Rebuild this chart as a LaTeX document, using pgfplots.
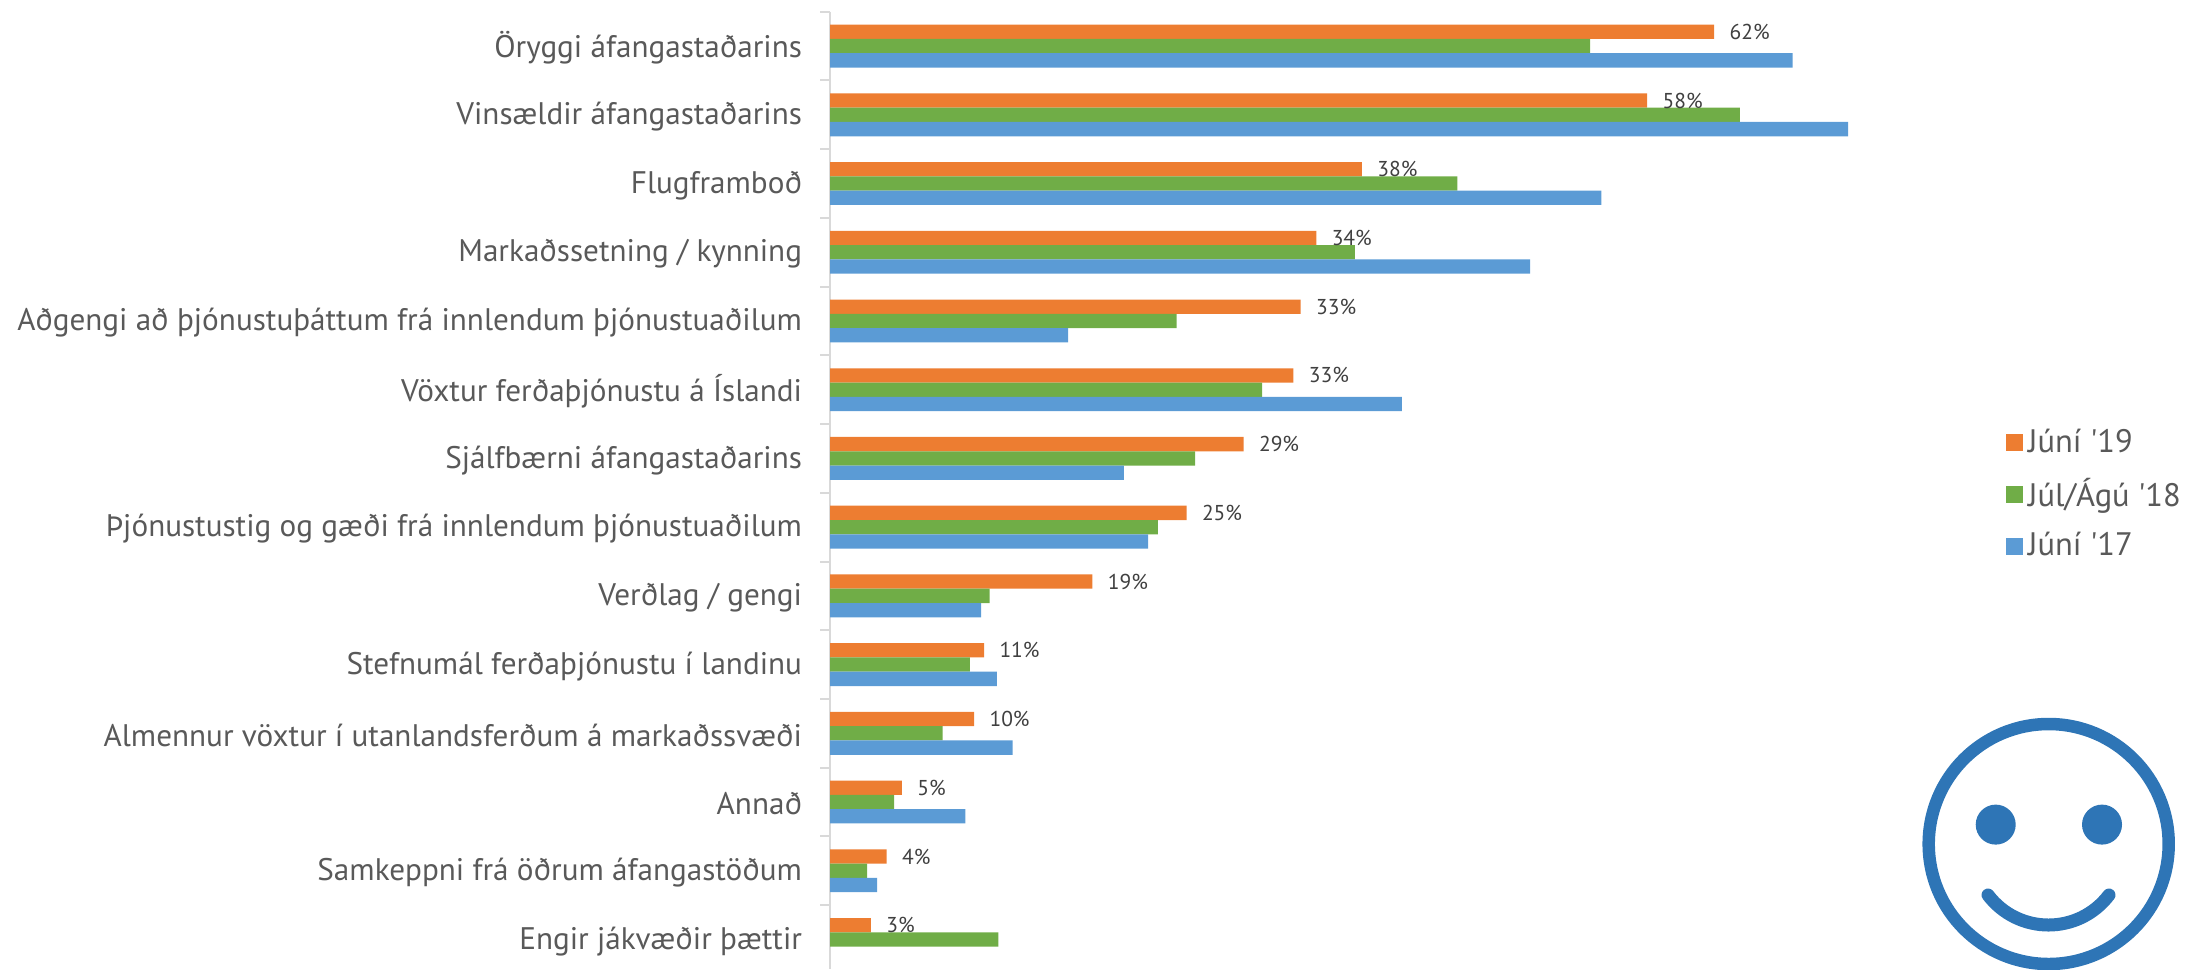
\documentclass[border=0pt]{standalone}
\usepackage{pgfplots}
\pgfplotsset{compat=1.18}
\usepackage{fontspec}
\setmainfont{PT Sans}
\definecolor{cOr}{HTML}{ED7D31}
\definecolor{cGr}{HTML}{70AD47}
\definecolor{cBl}{HTML}{5B9BD5}
\definecolor{cAx}{HTML}{D9D9D9}
\definecolor{cTx}{HTML}{595959}
\definecolor{cLb}{HTML}{404040}
\definecolor{cSm}{HTML}{2E75B6}
\begin{document}
\begin{tikzpicture}[x=0.4pt,y=-0.4pt]
\useasboundingbox (0,0) rectangle (2188,969);
\begin{axis}[
  at={(332pt,-387.6pt)}, anchor=south west,
  scale only axis, width=456.32pt, height=382.92pt,
  xmin=0, xmax=80, ymin=-0.5, ymax=13.43,
  y dir=reverse,
  hide x axis,
  axis y line=left,
  axis line style={-,cAx,line width=0.8pt},
  xbar, bar width=5.72pt,
  ytick={0,...,13},
  yticklabels={Öryggi áfangastaðarins,Vinsældir áfangastaðarins,Flugframboð,Markaðssetning / kynning,Aðgengi að þjónustuþáttum frá innlendum þjónustuaðilum,Vöxtur ferðaþjónustu á Íslandi,Sjálfbærni áfangastaðarins,Þjónustustig og gæði frá innlendum þjónustuaðilum,Verðlag / gengi,Stefnumál ferðaþjónustu í landinu,Almennur vöxtur í utanlandsferðum á markaðssvæði,Annað,Samkeppni frá öðrum áfangastöðum,Engir jákvæðir þættir},
  minor ytick={-0.5,0.5,...,12.5},
  major tick length=0pt,
  minor tick length=4pt,
  tick align=outside,
  tick style={cAx,line width=0.8pt},
  yticklabel style={font=\fontsize{12.47}{14}\selectfont,text=cTx,inner sep=0pt,xshift=-11pt,yshift=-0.7pt},
  legend style={draw=none,fill=none,at={(1.031,0.496)},anchor=west,
    font=\fontsize{13}{14}\selectfont,text=cTx,row sep=4.9pt,
    inner sep=0pt,outer sep=0pt},
  legend cell align=left,
  legend image code/.code={\fill[#1] (0pt,-3.4pt) rectangle (6.8pt,3.4pt);},
  clip=false,
]
\addplot[fill=cOr,draw=none,bar shift=5.72pt,
  point meta=explicit symbolic,
  nodes near coords={\pgfplotspointmeta},
  nodes near coords style={font=\fontsize{8.6}{10}\selectfont,text=cLb,anchor=west,inner sep=0pt,xshift=6pt},
] coordinates {
(62,0) [62\%] (57.3,1) [58\%] (37.3,2) [38\%] (34.1,3) [34\%] (33,4) [33\%] (32.5,5) [33\%] (29,6) [29\%]
(25,7) [25\%] (18.4,8) [19\%] (10.8,9) [11\%] (10.1,10) [10\%] (5.04,11) [5\%] (3.97,12) [4\%] (2.86,13) [3\%]};
\addplot[fill=cGr,draw=none,bar shift=0pt] coordinates {
(53.3,0) (63.8,1) (44,2) (36.8,3) (24.3,4) (30.3,5) (25.6,6) (23,7) (11.2,8) (9.8,9) (7.9,10) (4.5,11) (2.6,12) (11.8,13)};
\addplot[fill=cBl,draw=none,bar shift=-5.72pt] coordinates {
(67.5,0) (71.4,1) (54.1,2) (49.1,3) (16.7,4) (40.1,5) (20.6,6) (22.3,7) (10.6,8) (11.7,9) (12.8,10) (9.5,11) (3.3,12)};
\legend{Júní \textquotesingle 19,Júl/Ágú \textquotesingle 18,Júní \textquotesingle 17}
\end{axis}
\draw[cSm,line width=5pt] (2048.7,844) circle[radius=120];
\fill[cSm] (1995.7,824.6) circle[radius=20];
\fill[cSm] (2102,824.6) circle[radius=20];
\draw[cSm,line width=5.2pt,line cap=round] (1988,895) .. controls (2018.5,935) and (2078.5,935) .. (2109,895);
\end{tikzpicture}
\end{document}
